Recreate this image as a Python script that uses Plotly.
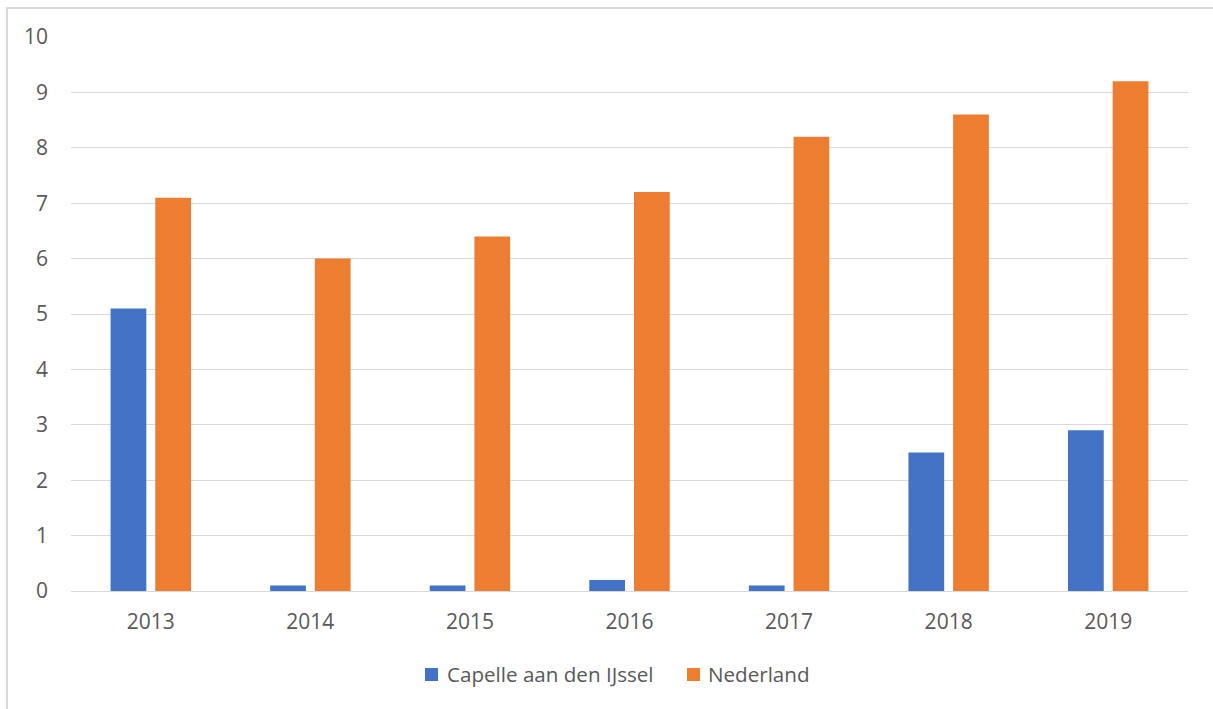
import plotly.graph_objects as go

years = ["2013", "2014", "2015", "2016", "2017", "2018", "2019"]
capelle = [5.1, 0.1, 0.1, 0.2, 0.1, 2.5, 2.9]
nederland = [7.1, 6.0, 6.4, 7.2, 8.2, 8.6, 9.2]
series_names = ["Capelle aan den IJssel", "Nederland"]
colors = ["#4472C4", "#ED7D31"]

W, H = 1213, 709
L, R, T, B = 71, 25, 37, 118
pw, ph = W - L - R, H - T - B

fig = go.Figure()
fig.add_trace(go.Bar(x=years, y=capelle, name=series_names[0], marker_color=colors[0],
                     marker_line_width=0, showlegend=False))
fig.add_trace(go.Bar(x=years, y=nederland, name=series_names[1], marker_color=colors[1],
                     marker_line_width=0, showlegend=False))

font = "Open Sans, Liberation Sans, sans-serif"
txt = "#595959"
fig.update_layout(
    width=W, height=H,
    margin=dict(l=L, r=R, t=T, b=B),
    paper_bgcolor="white", plot_bgcolor="white",
    barmode="group", bargap=0.44, bargroupgap=0.2,
    font=dict(family=font, size=21, color=txt),
    showlegend=False,
    xaxis=dict(showgrid=False, showline=True, linecolor="#D9D9D9", linewidth=1,
               ticks="", ticklabelstandoff=12, tickfont=dict(size=21, color=txt)),
    yaxis=dict(range=[0, 10], dtick=1, showgrid=True, gridcolor="#D9D9D9", gridwidth=1,
               zeroline=True, zerolinecolor="#D9D9D9", zerolinewidth=1,
               ticks="", ticklabelstandoff=22, tickfont=dict(size=21, color=txt)),
)

# custom legend (square swatch + label)
def px_x(x):
    return (x - L) / pw

def px_y(y):
    return 1 - (y - T) / ph

legend_items = [(425, 445), (687, 706)]
ly = 674
for (sx, tx), name, col in zip(legend_items, series_names, colors):
    fig.add_shape(type="rect", xref="paper", yref="paper",
                  x0=px_x(sx), x1=px_x(sx + 13), y0=px_y(ly + 7), y1=px_y(ly - 6),
                  fillcolor=col, line=dict(width=0))
    fig.add_annotation(xref="paper", yref="paper", x=px_x(tx), y=px_y(ly),
                       xanchor="left", yanchor="middle", text=name, showarrow=False,
                       font=dict(size=20.6, color=txt, family=font))

# outer chart-area border (extends past right/bottom of the window)
fig.add_shape(type="rect", xref="paper", yref="paper", x0=px_x(7), x1=1.5, y0=-1.0,
              y1=px_y(8), line=dict(color="#D9D9D9", width=2),
              fillcolor="rgba(0,0,0,0)", layer="below")

fig.write_html("out.html", config={"displayModeBar": False})
with open("out.html", encoding="utf-8") as f:
    html = f.read()
html = html.replace("<head>", "<head><style>body{margin:0;overflow:hidden;}</style>", 1)
with open("out.html", "w", encoding="utf-8") as f:
    f.write(html)
